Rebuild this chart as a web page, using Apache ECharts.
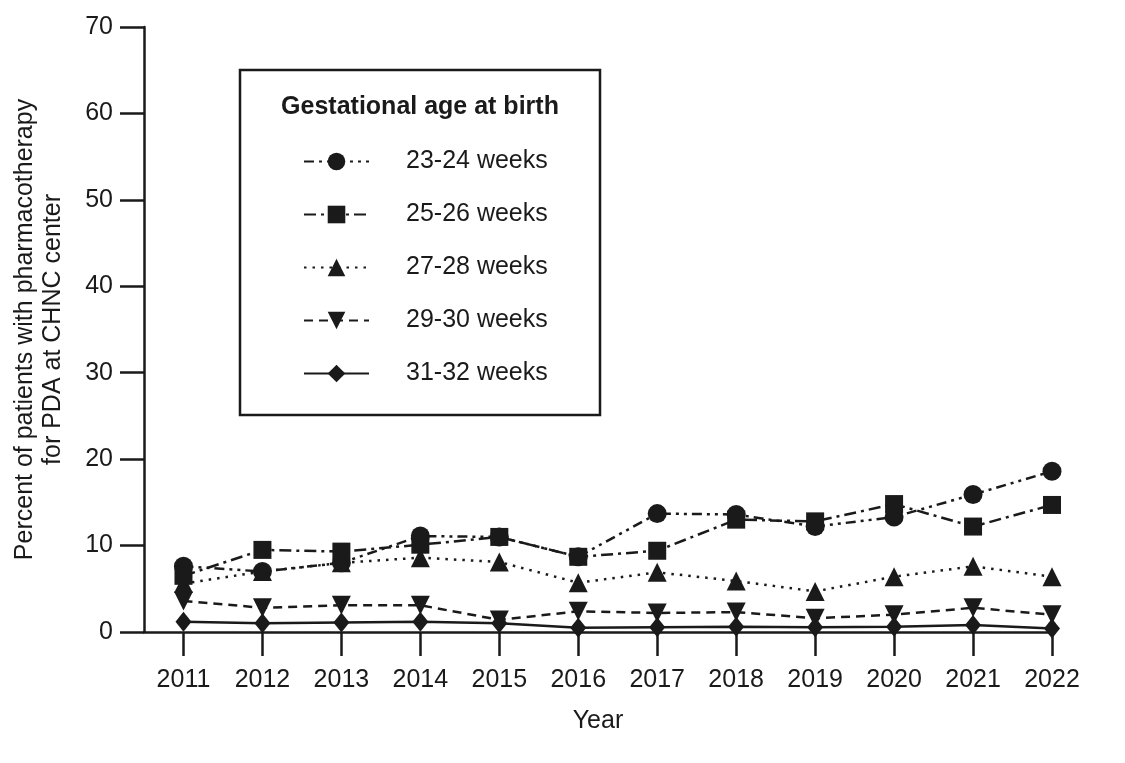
<!DOCTYPE html>
<html>
<head>
<meta charset="utf-8">
<script src="https://cdn.jsdelivr.net/npm/echarts@6/dist/echarts.min.js"></script>
<style>
    html, body { margin: 0; padding: 0; background: #fff; }
    #chart { width: 1125px; height: 763px; }
</style>
</head>
<body>
<div id="chart"></div>
<script>
const years = [2011, 2012, 2013, 2014, 2015, 2016, 2017, 2018, 2019, 2020, 2021, 2022];
const yTicks = [0, 10, 20, 30, 40, 50, 60, 70];

const ga2324 = [7.6, 7.0, 8.0, 11.1, 11.0, 8.7, 13.7, 13.6, 12.2, 13.3, 15.9, 18.6];
const ga2526 = [6.5, 9.5, 9.3, 10.1, 11.0, 8.7, 9.4, 13.0, 12.8, 14.8, 12.2, 14.7];
const ga2728 = [5.6, 7.0, 8.0, 8.6, 8.1, 5.7, 6.9, 5.9, 4.7, 6.4, 7.6, 6.4];
const ga2930 = [3.6, 2.8, 3.1, 3.1, 1.4, 2.4, 2.2, 2.3, 1.6, 2.0, 2.8, 2.0];
const ga3132 = [1.2, 1.0, 1.1, 1.2, 1.0, 0.5, 0.55, 0.6, 0.55, 0.6, 0.8, 0.4];

const font = "'Liberation Sans', Arial, sans-serif";
const ink = "#1a1a1a";
const fontSize = 25;

function pairs(values) {
    return values.map((v, i) => [years[i], v]);
}

function makeSeries(name, values, symbol, size, dash, rotate) {
    return {
        name: name,
        type: "line",
        data: pairs(values),
        symbol: symbol,
        symbolSize: size,
        symbolRotate: rotate || 0,
        itemStyle: { color: ink },
        lineStyle: { color: ink, width: 2.5, type: dash },
        emphasis: { disabled: true },
        z: 3
    };
}

const chart = echarts.init(document.getElementById("chart"));

const option = {
    animation: false,
    backgroundColor: "#fff",
    textStyle: { fontFamily: font, color: ink },
    grid: { left: 144, right: 73, top: 27, bottom: 131, outerBoundsMode: "none", containLabel: false },
    xAxis: {
        type: "value",
        min: 2010.5,
        max: 2022,
        name: "Year",
        nameLocation: "middle",
        nameGap: 77,
        nameTextStyle: { fontSize: fontSize, fontFamily: font, color: ink },
        axisLine: { show: true, lineStyle: { color: ink, width: 2.5 } },
        axisTick: { show: true, length: 24, customValues: years, lineStyle: { color: ink, width: 2.5 } },
        axisLabel: {
            customValues: years,
            margin: 36,
            fontSize: fontSize,
            fontFamily: font,
            color: ink,
            formatter: v => String(v)
        },
        splitLine: { show: false }
    },
    yAxis: {
        type: "value",
        min: 0,
        max: 70,
        interval: 10,
        name: "Percent of patients with pharmacotherapy\nfor PDA at CHNC center",
        nameLocation: "middle",
        nameGap: 77,
        nameTextStyle: { fontSize: fontSize, fontFamily: font, color: ink, lineHeight: 28 },
        axisLine: { show: true, lineStyle: { color: ink, width: 2.5 } },
        axisTick: { show: true, length: 24, lineStyle: { color: ink, width: 2.5 } },
        axisLabel: {
            customValues: yTicks,
            margin: 31,
            fontSize: fontSize,
            fontFamily: font,
            color: ink
        },
        splitLine: { show: false }
    },
    legend: {
        orient: "vertical",
        left: 298,
        top: 144,
        padding: 5,
        itemWidth: 65,
        itemHeight: 22,
        itemGap: 28,
        selectedMode: false,
        textStyle: { fontSize: fontSize, fontFamily: font, color: ink, padding: [0, 0, 0, 32] },
        data: ["23-24 weeks", "25-26 weeks", "27-28 weeks", "29-30 weeks", "31-32 weeks"]
    },
    graphic: [
        {
            type: "rect",
            shape: { x: 240, y: 70, width: 360, height: 345 },
            style: { fill: "none", stroke: ink, lineWidth: 2.5 },
            z: 1
        },
        {
            type: "text",
            x: 420,
            y: 107,
            style: {
                text: "Gestational age at birth",
                fontSize: fontSize,
                fontWeight: "bold",
                fontFamily: font,
                fill: ink,
                align: "center",
                verticalAlign: "middle"
            },
            z: 2
        }
    ],
    series: [
        makeSeries("23-24 weeks", ga2324, "circle", 19, [10, 5, 3, 5, 3, 5]),
        makeSeries("25-26 weeks", ga2526, "rect", 18, [12, 5, 3, 5]),
        makeSeries("27-28 weeks", ga2728, "triangle", 19, [2.5, 6]),
        makeSeries("29-30 weeks", ga2930, "triangle", 19, [9, 6], 180),
        makeSeries("31-32 weeks", ga3132, "diamond", [16, 20], "solid")
    ]
};

chart.setOption(option);
</script>
</body>
</html>
